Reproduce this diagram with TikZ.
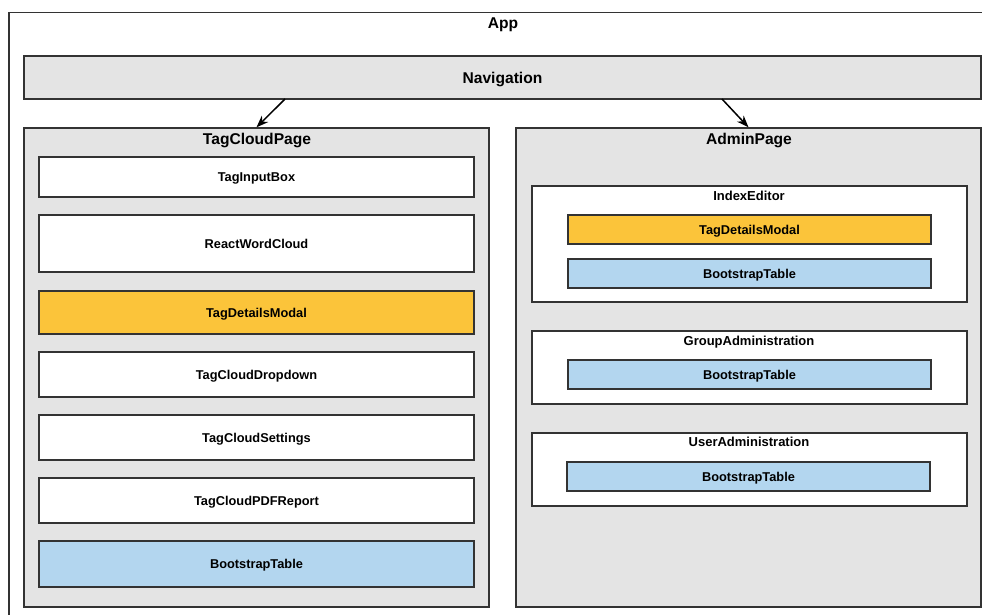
\documentclass[tikz,border=0pt]{standalone}
\usepackage{fontspec}
\setmainfont{Liberation Sans}
\usetikzlibrary{fit,arrows.meta}
\definecolor{linec}{HTML}{333333}
\definecolor{grayf}{HTML}{E4E4E4}
\definecolor{orangef}{HTML}{FBC43A}
\definecolor{bluef}{HTML}{B3D6EF}
\tikzset{
  frame/.style={draw=linec, line width=1.4pt, rectangle, inner sep=0pt},
  gbox/.style={frame, fill=grayf},
  wbox/.style={frame, fill=white},
  obox/.style={frame, fill=orangef},
  bbox/.style={frame, fill=bluef},
  big/.style={font=\fontsize{15.6}{18}\selectfont\bfseries, inner sep=0pt, anchor=base, yshift=-5.6pt},
  mid/.style={font=\fontsize{13}{15}\selectfont\bfseries, inner sep=0pt, anchor=base, yshift=-4.7pt},
  small/.style={font=\fontsize{12.8}{15}\selectfont\bfseries, inner sep=0pt, anchor=base, yshift=-4.6pt},
  arr/.style={draw=black, line width=1.5pt, -{Stealth[length=12pt,width=9pt]}},
}
\begin{document}
\begin{tikzpicture}[x=1pt,y=-1pt]
\useasboundingbox (0,0) rectangle (982,614);
% App
\node[wbox, line width=1.2pt, fit={(9,12.5) (995,625)}] (app) {};
\node[big] (applbl) at (503,23) {App};
% Navigation
\node[gbox, fit={(24,56) (981,99)}] (nav) {};
\node[big] (navlbl) at (nav.center) {Navigation};
% Pages
\node[gbox, fit={(24,128) (489,607)}] (tcp) {};
\node[big] (tcplbl) at (257,139) {TagCloudPage};
\node[gbox, fit={(516,128) (981,607)}] (adm) {};
\node[big] (admlbl) at (749,139) {AdminPage};
% Arrows
\coordinate (s1) at (285,99);
\coordinate (s2) at (722,99);
\draw[arr] (s1) -- (tcp.north);
\draw[arr] (s2) -- (adm.north);
% TagCloudPage children
\node[wbox, fit={(39,157) (474,197)}] (tib) {};
\node[small] (tibl) at (tib.center) {TagInputBox};
\node[wbox, fit={(39,215) (474,272)}] (rwc) {};
\node[small] (rwcl) at (rwc.center) {ReactWordCloud};
\node[obox, fit={(39,291) (474,334)}] (tdm) {};
\node[small] (tdml) at (tdm.center) {TagDetailsModal};
\node[wbox, fit={(39,352) (474,397)}] (tcd) {};
\node[small] (tcdl) at (tcd.center) {TagCloudDropdown};
\node[wbox, fit={(39,415) (474,460)}] (tcs) {};
\node[small] (tcsl) at (tcs.center) {TagCloudSettings};
\node[wbox, fit={(39,478) (474,523)}] (tcr) {};
\node[small] (tcrl) at (tcr.center) {TagCloudPDFReport};
\node[bbox, fit={(39,541) (474,587)}] (bt1) {};
\node[small] (bt1l) at (bt1.center) {BootstrapTable};
% AdminPage children
\node[wbox, fit={(532,186) (967,302)}] (ied) {};
\node[mid] (iedlbl) at (749,196) {IndexEditor};
\node[obox, fit={(568,215) (931,244)}] (tdm2) {};
\node[small] (tdm2l) at (tdm2.center) {TagDetailsModal};
\node[bbox, fit={(568,259) (931,288)}] (bt2) {};
\node[small] (bt2l) at (bt2.center) {BootstrapTable};
\node[wbox, fit={(532,331) (967,404)}] (gad) {};
\node[mid] (gadlbl) at (749,341) {GroupAdministration};
\node[bbox, fit={(568,360) (931,389)}] (bt3) {};
\node[small] (bt3l) at (bt3.center) {BootstrapTable};
\node[wbox, fit={(532,433) (967,506)}] (uad) {};
\node[mid] (uadlbl) at (749,442) {UserAdministration};
\node[bbox, fit={(567,462) (930,491)}] (bt4) {};
\node[small] (bt4l) at (bt4.center) {BootstrapTable};
\end{tikzpicture}
\end{document}
